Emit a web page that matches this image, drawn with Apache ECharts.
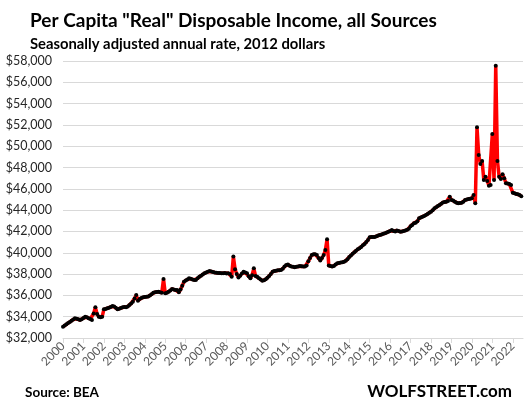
<!DOCTYPE html>
<html>
<head>
<meta charset="utf-8">
<script src="https://cdn.jsdelivr.net/npm/echarts@6/dist/echarts.min.js"></script>
<style>
  html, body { margin: 0; padding: 0; background: #fff; }
  #chart { width: 529px; height: 398px; }
</style>
</head>
<body>
<div id="chart"></div>
<script>
// years shown on the x axis
const years = [2000, 2001, 2002, 2003, 2004, 2005, 2006, 2007, 2008, 2009, 2010,
  2011, 2012, 2013, 2014, 2015, 2016, 2017, 2018, 2019, 2020, 2021, 2022];

// y axis ticks
const yMin = 32000;
const yMax = 58000;
const yStep = 2000;

// monthly per capita real disposable income, Jan 2000 .. Jun 2022
const income = [
  33060, 33170, 33280, 33400, 33510, 33620, 33740, 33850, 33800, 33760, 33690, 33760, // 2000
  33880, 34000, 33950, 33850, 33780, 33690, 34300, 34880, 34250, 34000, 33950, 34000, // 2001
  34690, 34720, 34790, 34850, 34920, 35000, 34950, 34850, 34690, 34750, 34820, 34880, // 2002
  34900, 34880, 34950, 35100, 35250, 35400, 35700, 36040, 35500, 35650, 35750, 35820, // 2003
  35850, 35870, 35900, 35980, 36100, 36250, 36300, 36320, 36350, 36300, 36250, 37540, // 2004
  36190, 36250, 36350, 36450, 36600, 36550, 36500, 36500, 36300, 36550, 36900, 37280, // 2005
  37400, 37500, 37600, 37550, 37500, 37450, 37440, 37600, 37750, 37850, 37950, 38070, // 2006
  38150, 38220, 38290, 38250, 38200, 38150, 38130, 38100, 38100, 38080, 38070, 38100, // 2007
  38050, 38070, 38000, 37750, 39650, 38450, 38000, 37690, 37850, 38050, 38220, 38150, // 2008
  38070, 37800, 37600, 37900, 38540, 37820, 37750, 37600, 37500, 37380, 37420, 37510, // 2009
  37650, 37820, 38000, 38220, 38280, 38320, 38350, 38360, 38380, 38500, 38700, 38850, // 2010
  38900, 38790, 38720, 38680, 38640, 38680, 38720, 38760, 38740, 38700, 38700, 38800, // 2011
  39200, 39500, 39790, 39850, 39860, 39800, 39500, 39280, 39500, 39790, 40260, 41260, // 2012
  38800, 38760, 38700, 38750, 38900, 39010, 39050, 39080, 39100, 39150, 39250, 39400, // 2013
  39600, 39750, 39900, 40050, 40200, 40320, 40420, 40550, 40700, 40820, 41000, 41200, // 2014
  41450, 41480, 41470, 41480, 41550, 41620, 41670, 41720, 41780, 41830, 41900, 41980, // 2015
  42050, 42140, 42050, 42000, 42080, 42050, 41980, 42000, 42050, 42100, 42150, 42250, // 2016
  42500, 42610, 42780, 42820, 42950, 43230, 43300, 43390, 43450, 43550, 43650, 43750, // 2017
  43860, 44000, 44170, 44270, 44380, 44480, 44600, 44730, 44760, 44790, 44850, 45260, // 2018
  44950, 44900, 44800, 44700, 44640, 44680, 44700, 44780, 44950, 45000, 45040, 45080, // 2019
  45110, 45420, 44640, 51780, 49180, 48330, 48610, 46830, 47140, 46740, 46300, 46360, // 2020
  51150, 46830, 57560, 48610, 47140, 46920, 47360, 47000, 46520, 46500, 46450, 46360, // 2021
  45640, 45580, 45520, 45490, 45420, 45300                                            // 2022
];

// one category per month, running one month past the last value
const months = [];
years.forEach(y => {
  for (let m = 1; m <= 12; m++) {
    if (y === 2022 && m > 7) break;
    months.push(y + '-' + (m < 10 ? '0' + m : m));
  }
});

const myChart = echarts.init(document.querySelector('#chart'));
const font = 'Lato, "Open Sans", sans-serif';
const isJan = (i) => i % 12 === 0;

const option = {
  animation: false,
  title: [
    {
      text: 'Per Capita "Real" Disposable Income, all Sources',
      left: 25,
      top: 6,
      textStyle: { fontFamily: font, fontSize: 19, fontWeight: 'bold', color: '#000' }
    },
    {
      text: 'Seasonally adjusted annual rate, 2012 dollars',
      left: 25,
      top: 32,
      textStyle: { fontFamily: font, fontSize: 14.8, fontWeight: 'bold', color: '#000' }
    },
    {
      text: 'Source: BEA',
      left: 20,
      top: 381,
      textStyle: { fontFamily: font, fontSize: 13.5, fontWeight: 'bold', color: '#000' }
    },
    {
      text: 'WOLFSTREET.com',
      right: 12,
      top: 378,
      textStyle: { fontFamily: font, fontSize: 17, fontWeight: 'bold', color: '#000' }
    }
  ],
  grid: { left: 63, right: 6, top: 61, bottom: 60 },
  xAxis: {
    type: 'category',
    data: months,
    boundaryGap: false,
    axisLine: { lineStyle: { color: '#d9d9d9', width: 1 } },
    axisTick: { interval: isJan, length: 5, lineStyle: { color: '#d9d9d9' } },
    axisLabel: {
      interval: isJan,
      rotate: 45,
      margin: 6,
      fontFamily: font,
      fontSize: 12,
      color: '#595959',
      formatter: (v) => v.slice(0, 4)
    },
    splitLine: { show: false }
  },
  yAxis: {
    type: 'value',
    min: yMin,
    max: yMax,
    interval: yStep,
    axisLine: { show: false },
    axisTick: { show: false },
    axisLabel: {
      margin: 11,
      fontFamily: font,
      fontSize: 12.5,
      color: '#262626',
      formatter: (v) => '$' + v.toLocaleString('en-US')
    },
    splitLine: { lineStyle: { color: '#d9d9d9', width: 1 } }
  },
  series: [
    {
      name: 'income',
      type: 'line',
      data: income,
      showAllSymbol: true,
      symbol: 'circle',
      symbolSize: 4,
      itemStyle: { color: '#000' },
      lineStyle: { color: '#ff0000', width: 3.5 }
    }
  ]
};
myChart.setOption(option);
</script>
</body>
</html>
